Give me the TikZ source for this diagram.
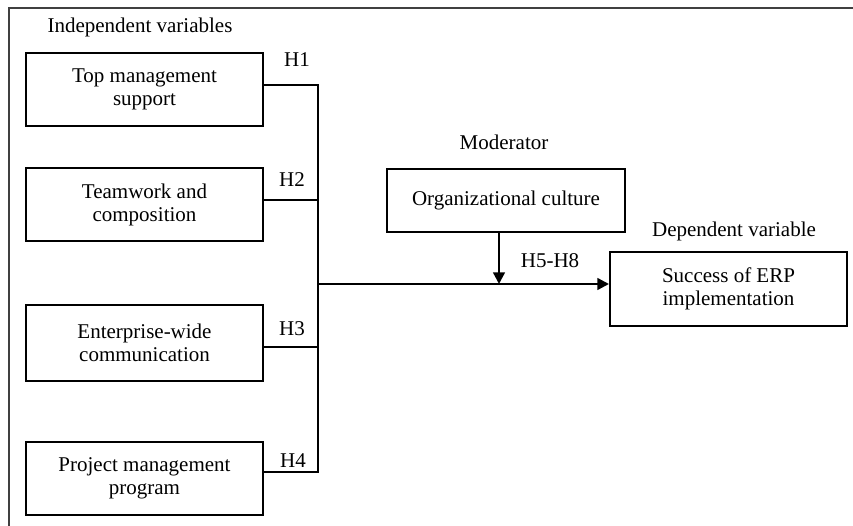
\documentclass[tikz,border=0pt]{standalone}
\usepackage{fontspec}
\setmainfont{Liberation Serif}
\usetikzlibrary{arrows.meta}
\begin{document}
\begin{tikzpicture}[x=0.6pt,y=-0.6pt,
  txt/.style={font=\fontsize{12.6}{14}\selectfont},
  varbox/.style={txt,draw,line width=1.2pt,minimum width=142.2pt,minimum height=43.8pt,inner sep=0pt,align=center},
  lbl/.style={txt,anchor=base,inner sep=0pt},
  link/.style={line width=1.2pt},
  flow/.style={line width=1.4pt,-{Triangle[length=7pt,width=7pt]}}]
\useasboundingbox (0,0) rectangle (853,526);

% page frame
\draw[line width=0.9pt,black!75] (9,526) -- (9,8) -- (853,8);

% independent variables
\node[lbl] (iv) at (140,33) {Independent variables};
\node[varbox] (tms) at (144.5,89.5) {Top management\\support};
\node[varbox] (twc) at (144.5,205) {Teamwork and\\composition};
\node[varbox,minimum height=45.6pt] (ewc) at (144.5,343) {Enterprise-wide\\communication};
\node[varbox] (pmp) at (144.5,478.5) {Project management\\program};

% moderator and dependent variable
\node[lbl] (mod) at (504,150) {Moderator};
\node[varbox,minimum width=142.8pt,minimum height=37.8pt] (oc) at (506,200.5) {Organizational culture};
\node[lbl] (dv) at (734,237) {Dependent variable};
\node[varbox,minimum height=44.4pt] (erp) at (728.5,289) {Success of ERP\\implementation};

% collecting bus
\coordinate (bus) at (318,284);
\coordinate (m) at (499,284);
\draw[link] ([yshift=2.7pt]tms.east) -| (bus);
\draw[link] ([yshift=3pt]twc.east) -- ++(55,0);
\draw[link] ([yshift=-2.4pt]ewc.east) -- ++(55,0);
\draw[link] ([yshift=3.9pt]pmp.east) -| (bus);

% hypotheses
\node[lbl] (h1) at (297,67) {H1};
\node[lbl] (h2) at (292,187) {H2};
\node[lbl] (h3) at (292,336) {H3};
\node[lbl] (h4) at (293,467) {H4};
\node[lbl] (h58) at (550,268) {H5-H8};

% arrows
\draw[flow] (bus) -- (bus -| erp.west);
\draw[flow] (oc.south -| m) -- (m);
\end{tikzpicture}
\end{document}
